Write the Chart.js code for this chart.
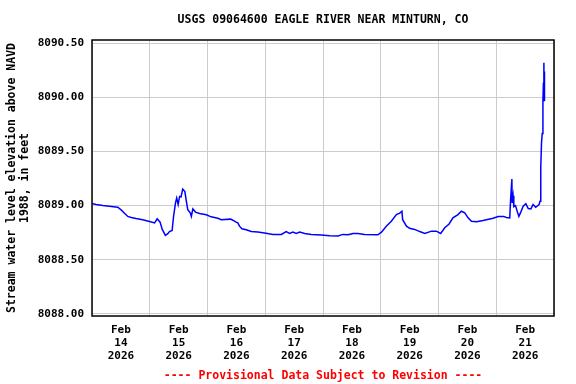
<!DOCTYPE html>
<html>
<head>
<meta charset="utf-8">
<script src="https://cdn.jsdelivr.net/npm/chart.js@4/dist/chart.umd.min.js"></script>
<style>
html,body{margin:0;padding:0;background:#fff;}
#wrap{width:576px;height:384px;}
</style>
</head>
<body>
<div id="wrap"><canvas id="c" width="576" height="384"></canvas></div>
<script>
// Hours since Feb 14 2026 00:00
const hours = [0,1.7,4.5,7.2,10.7,12.1,13.5,14.9,16.3,18.3,21.1,23.9,26,27.1,28.3,29.2,30.5,31.5,32.2,33.3,33.9,34.7,35.2,35.8,36.4,37,37.7,38.6,39.1,39.8,40.9,41.3,41.9,43,44.7,47.5,49.5,52.3,53.7,57.6,58.5,59.9,60.6,61.3,62.3,64.1,66.2,68.9,71.7,75.2,78.7,80.7,82.1,83.5,84.9,86.3,88.4,91.1,95.3,98.8,102.2,104.3,106.4,108.5,110.5,113.3,118.8,120.3,122.3,124.4,126.5,127.9,128.8,129.1,130.7,132,134.1,136.2,138.3,141.1,143.1,144.9,146.6,148.4,150,152.1,153.5,154.9,156.3,157.7,159.8,162.5,166.7,168.8,171.1,172.2,173.6,174.0,174.5,174.6,175.0,175.3,176.0,176.7,177.4,178.2,179.2,180.3,181.3,182.4,183.3,184.4,185.8,186.2,186.5,186.8,187.1,187.4,187.6,187.8,187.9,188.0,188.1];
const levels = [8089.02,8089.01,8089.00,8088.995,8088.985,8088.96,8088.93,8088.90,8088.89,8088.88,8088.87,8088.853,8088.84,8088.878,8088.847,8088.78,8088.725,8088.74,8088.76,8088.77,8088.90,8089.025,8089.07,8089.01,8089.085,8089.08,8089.153,8089.13,8089.055,8088.963,8088.93,8088.90,8088.97,8088.94,8088.927,8088.915,8088.896,8088.883,8088.87,8088.875,8088.865,8088.847,8088.84,8088.81,8088.786,8088.777,8088.76,8088.755,8088.746,8088.734,8088.734,8088.759,8088.743,8088.755,8088.743,8088.755,8088.743,8088.734,8088.728,8088.722,8088.72,8088.734,8088.73,8088.743,8088.743,8088.734,8088.73,8088.755,8088.81,8088.856,8088.917,8088.93,8088.948,8088.87,8088.81,8088.79,8088.78,8088.76,8088.743,8088.764,8088.764,8088.743,8088.795,8088.83,8088.887,8088.917,8088.948,8088.933,8088.887,8088.856,8088.85,8088.862,8088.883,8088.90,8088.90,8088.89,8088.887,8089.07,8089.245,8089.025,8089.09,8088.99,8089.00,8088.948,8088.90,8088.94,8088.994,8089.018,8088.972,8088.97,8089.01,8088.984,8089.01,8089.04,8089.35,8089.575,8089.667,8089.97,8090.13,8090.32,8089.97,8090.24,8090.13];
const dayLabels = ['14','15','16','17','18','19','20','21'];
const monthLabel = 'Feb';
const yearLabel = '2026';
const yTickValues = [8088.00,8088.50,8089.00,8089.50,8090.00,8090.50];

const chartTitle = 'USGS 09064600 EAGLE RIVER NEAR MINTURN, CO';
const yTitle = ['Stream water level elevation above NAVD','1988, in feet'];
const footer = '---- Provisional Data Subject to Revision ----';

const FONT = '"DejaVu Sans Mono", "Liberation Mono", monospace';

const boxPlugin = {
  id: 'box',
  afterDraw(chart) {
    const a = chart.chartArea, ctx = chart.ctx;
    ctx.save();
    ctx.strokeStyle = '#000';
    ctx.lineWidth = 1.5;
    ctx.strokeRect(a.left, a.top, a.right - a.left, a.bottom - a.top);
    ctx.restore();
  }
};

new Chart(document.getElementById('c'), {
  type: 'line',
  data: {
    datasets: [{
      data: hours.map((h, i) => ({x: h, y: levels[i]})),
      borderColor: '#0000ff',
      borderWidth: 1.5,
      pointRadius: 0,
      tension: 0,
      fill: false
    }]
  },
  options: {
    responsive: false,
    animation: false,
    devicePixelRatio: 1,
    layout: {padding: {left: 0, right: 22, top: 0, bottom: 0}},
    plugins: {
      legend: {display: false},
      tooltip: {enabled: false},
      title: {
        display: true, text: chartTitle, color: '#000', fullSize: false,
        font: {family: FONT, size: 11.5, weight: 'bold', lineHeight: '13px'},
        padding: {top: 14, bottom: 13}
      },
      subtitle: {
        display: true, text: footer, color: '#ff0000', position: 'bottom', fullSize: false,
        font: {family: FONT, size: 11.5, weight: 'bold', lineHeight: '13px'},
        padding: {top: 0, bottom: 1}
      }
    },
    scales: {
      x: {
        type: 'linear', min: 0, max: 192,
        border: {display: false},
        grid: {
          drawTicks: false, lineWidth: 1,
          color: (c) => (c.tick && c.tick.value % 24 === 0) ? '#cccccc' : 'rgba(0,0,0,0)'
        },
        afterBuildTicks: (s) => {
          const t = [];
          for (let v = 0; v <= 192; v += 12) t.push({value: v});
          s.ticks = t;
        },
        ticks: {
          autoSkip: false, maxRotation: 0, minRotation: 0, padding: 8, color: '#000',
          font: {family: FONT, size: 11, weight: 'bold', lineHeight: '13px'},
          callback: (v) => {
            if (v % 24 !== 12) return '';
            return [monthLabel, dayLabels[Math.floor(v / 24)], yearLabel];
          }
        },
        afterFit: (s) => { s.height = 54; }
      },
      y: {
        type: 'linear', min: 8087.98, max: 8090.53,
        border: {display: false},
        grid: {drawTicks: false, color: '#cccccc', lineWidth: 1},
        afterBuildTicks: (s) => { s.ticks = yTickValues.map(v => ({value: v})); },
        ticks: {
          padding: 8, color: '#000',
          font: {family: FONT, size: 11, weight: 'bold'},
          callback: (v) => Number(v).toFixed(2)
        },
        title: {
          display: true, text: yTitle, color: '#000',
          font: {family: FONT, size: 11.5, weight: 'bold', lineHeight: '13px'},
          padding: {top: 6, bottom: 0}
        },
        afterFit: (s) => { s.width = 92; }
      }
    }
  },
  plugins: [boxPlugin]
});
</script>
</body>
</html>
